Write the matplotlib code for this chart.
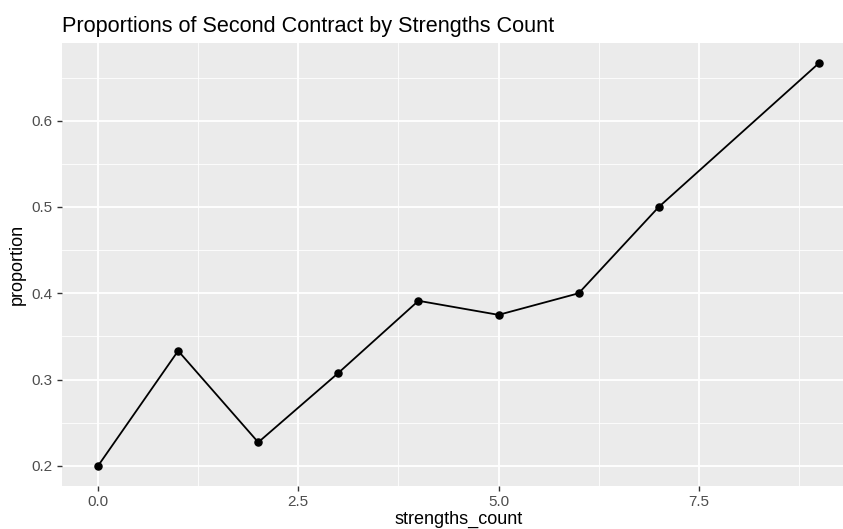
import matplotlib
matplotlib.use("Agg")
import matplotlib.pyplot as plt
from matplotlib.ticker import MultipleLocator

plt.rcParams['font.family'] = ['Liberation Sans', 'DejaVu Sans']

# data
strengths_count = [0, 1, 2, 3, 4, 5, 6, 7, 9]
proportion = [0.2, 0.3333, 0.2273, 0.3077, 0.3913, 0.375, 0.4, 0.5, 0.6667]

x_ticks = [0.0, 2.5, 5.0, 7.5]
y_ticks = [0.2, 0.3, 0.4, 0.5, 0.6]

fig = plt.figure(figsize=(8.43, 5.29), dpi=100)
ax = fig.add_axes([62 / 843, 43 / 529, 793 / 843, 443 / 529])

# ggplot-ish grey panel
ax.set_facecolor('#EBEBEB')
for side in ax.spines.values():
    side.set_visible(False)

ax.plot(strengths_count, proportion, color='black', linewidth=1.3, zorder=3)
ax.scatter(strengths_count, proportion, color='black', s=26, zorder=4)

# 5% expansion like ggplot
xr = max(strengths_count) - min(strengths_count)
yr = max(proportion) - min(proportion)
ax.set_xlim(min(strengths_count) - 0.05 * xr, max(strengths_count) + 0.05 * xr)
ax.set_ylim(min(proportion) - 0.05 * yr, max(proportion) + 0.05 * yr)

ax.set_xticks(x_ticks)
ax.set_xticklabels([f"{t:.1f}" for t in x_ticks])
ax.set_yticks(y_ticks)
ax.set_yticklabels([f"{t:.1f}" for t in y_ticks])
ax.xaxis.set_minor_locator(MultipleLocator(1.25))
ax.yaxis.set_minor_locator(MultipleLocator(0.05))

ax.grid(True, which='major', color='white', linewidth=1.3)
ax.grid(True, which='minor', color='white', linewidth=0.6)
ax.set_axisbelow(True)

ax.tick_params(axis='both', which='major', length=3.5, width=1, color='#333333',
               labelcolor='#4D4D4D', labelsize=11, pad=3)
ax.tick_params(axis='both', which='minor', length=0)

ax.set_xlabel('strengths_count', fontsize=13, color='black', labelpad=1)
ax.set_ylabel('proportion', fontsize=13, color='black', labelpad=4)
ax.set_title('Proportions of Second Contract by Strengths Count', loc='left',
             fontsize=15.6, color='black', pad=8)

fig.savefig('out.png', dpi=100)
